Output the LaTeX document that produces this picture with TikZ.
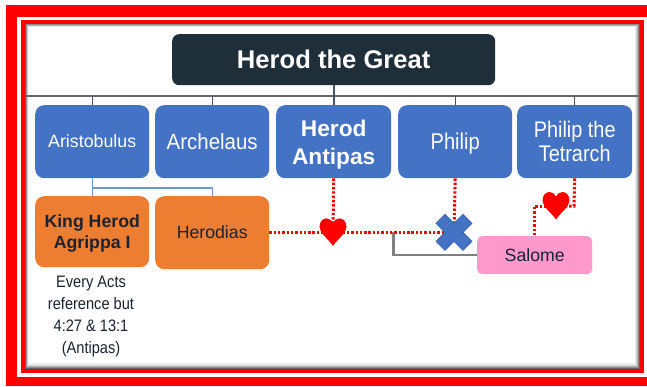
\documentclass[tikz,border=0pt]{standalone}
\usepackage{fontspec}
\setmainfont{Liberation Sans}
\newfontfamily\narrowface[FakeStretch=0.88]{Liberation Sans}
\newfontfamily\slimface[FakeStretch=0.93]{Liberation Sans}
\definecolor{bluebox}{HTML}{4472C4}
\definecolor{crossedge}{HTML}{3A64AE}
\definecolor{orangebox}{HTML}{ED7D31}
\definecolor{pinkbox}{HTML}{FF99CC}
\definecolor{darkbox}{HTML}{1E2F3A}
\definecolor{treeline}{HTML}{44546A}
\definecolor{sublink}{HTML}{6C9BD2}
\definecolor{inktext}{HTML}{1B2333}
\newcommand{\fs}[1]{\fontsize{#1}{#1}\selectfont}
\tikzset{
  x=1pt,y=-1pt,
  box/.style={draw=none,rounded corners=9pt,inner sep=0pt,align=center,anchor=north west},
  bluenode/.style={box,fill=bluebox,text=white,minimum width=115pt,minimum height=73pt},
  orangenode/.style={box,fill=orangebox,text=inktext,minimum width=115pt},
  tree/.style={draw=treeline,line width=1.4pt},
  sub/.style={draw=sublink,line width=1.4pt},
  love/.style={draw=red,line width=3pt,dash pattern=on 2.4pt off 1.9pt},
  spot/.style={inner sep=0pt,minimum size=2pt,outer sep=0pt},
  heartshape/.pic={\fill[red] (0,13.5) .. controls (-5,6) and (-13.5,1) .. (-13.5,-5.5) .. controls (-13.5,-11) and (-10,-14) .. (-6.5,-14) .. controls (-3.5,-14) and (-1,-12) .. (0,-9.5) .. controls (1,-12) and (3.5,-14) .. (6.5,-14) .. controls (10,-14) and (13.5,-11) .. (13.5,-5.5) .. controls (13.5,1) and (5,6) .. (0,13.5) -- cycle;},
  crossshape/.pic={\filldraw[fill=bluebox,draw=crossedge,line width=.6pt] (-18,-9) -- (-9,-18) -- (0,-9) -- (9,-18) -- (18,-9) -- (9,0) -- (18,9) -- (9,18) -- (0,9) -- (-9,18) -- (-18,9) -- (-9,0) -- cycle;}
}
\begin{document}
\begin{tikzpicture}
\useasboundingbox (0,0) rectangle (647,386);
\fill[white] (0,0) rectangle (647,386);
% outer frame, cut by the right edge of the picture
\fill[red] (6,5) rectangle (647,386);
\fill[white] (17,16.5) rectangle (647,377);
\fill[red] (21,20) rectangle (643.5,372.5);
% shadowed panel
\fill[black!62] (25,23.5) rectangle (640,369);
\fill[black!45] (25.8,24.3) rectangle (639.2,368);
\fill[black!30] (26.6,25) rectangle (638.2,367);
\fill[black!16] (27.4,25.7) rectangle (637,365.8);
\fill[black!7] (28.4,26.4) rectangle (635.8,364.6);
\fill[white] (29.4,27) rectangle (634.6,363.4);
% trunk
\coordinate (trunkL) at (26,96);
\coordinate (trunkR) at (640,96);
\draw[draw=black!60,line width=1.6pt] (trunkL) -- (trunkR);
% nodes
\node[box,fill=darkbox,text=white,rounded corners=7pt,minimum width=323pt,minimum height=51pt,font=\fs{25.6}\bfseries] (great) at (172,34) {Herod the Great};
\node[bluenode,minimum width=114pt,font=\fs{17.8},text height=12.4pt,text depth=0pt] (ari) at (35,105) {Aristobulus};
\node[bluenode,minimum width=114pt,font=\slimface\fs{22},text height=15.6pt,text depth=0pt] (arc) at (155,105) {Archelaus};
\node[bluenode,font=\fs{22.7}\bfseries] (ant) at (276,105) {\rule{0pt}{23pt}Herod\\[5pt]Antipas};
\node[bluenode,minimum width=114pt,font=\narrowface\fs{22.8},text height=15pt,text depth=0pt] (phi) at (398,105) {Philip};
\node[bluenode,font=\narrowface\fs{22.6}] (tet) at (517,105) {Philip the\\[1pt]Tetrarch};
\node[orangenode,minimum width=114pt,minimum height=71pt,font=\fs{17.7}\bfseries] (kin) at (35,196) {\rule{0pt}{16pt}King Herod\\[3.5pt]Agrippa I};
\node[orangenode,minimum width=114pt,minimum height=73pt,font=\fs{17.7},text height=12.4pt,text depth=0pt] (hrd) at (155,196) {Herodias};
\node[box,fill=pinkbox,text=inktext,rounded corners=5pt,minimum width=115pt,minimum height=38pt,font=\fs{17.7},text height=12pt,text depth=0pt] (sal) at (477,236) {Salome};
\node[align=center,inner sep=0pt,text=inktext,font=\narrowface\fontsize{16.6}{22}\selectfont] (note) at (91,316.5) {Every Acts\\reference but\\4:27 \& 13:1\\(Antipas)};
\node[spot] (hone) at (333,232.4) {};
\node[spot] (htwo) at (556,206) {};
\node[spot] (xone) at (454,232.4) {};
\coordinate (gbranch) at (393.5,232.4);
\coordinate (tturn) at (574,206);
\coordinate (sturn) at (534.5,206);
\coordinate (subjoin) at (93,188);
% tree connectors
\draw[tree,line width=1.8pt] (great.south) -- (ant.north);
\foreach \n in {ari,arc,phi,tet}{\draw[tree] (\n.north) -- (\n.north |- trunkL);}
% Aristobulus children
\draw[sub] (ari.south) -- (kin.north);
\draw[sub] (subjoin) -| (hrd.north);
% gray link to Salome
\draw[draw=black!50,line width=2.4pt] (gbranch) |- (sal.west);
% dotted links
\draw[love] (hrd.east |- hone) -- (hone);
\draw[love] (ant.south) -- (hone);
\draw[love] (hone) -- (xone);
\draw[love] (phi.south) -- (xone);
\draw[love] (tet.south) -- (tturn) -- (htwo);
\draw[love] (htwo) -- (sturn) -- (sturn |- sal.north);
% symbols
\pic at (hone) {heartshape};
\pic at (htwo) {heartshape};
\pic at (xone) {crossshape};
\end{tikzpicture}
\end{document}
